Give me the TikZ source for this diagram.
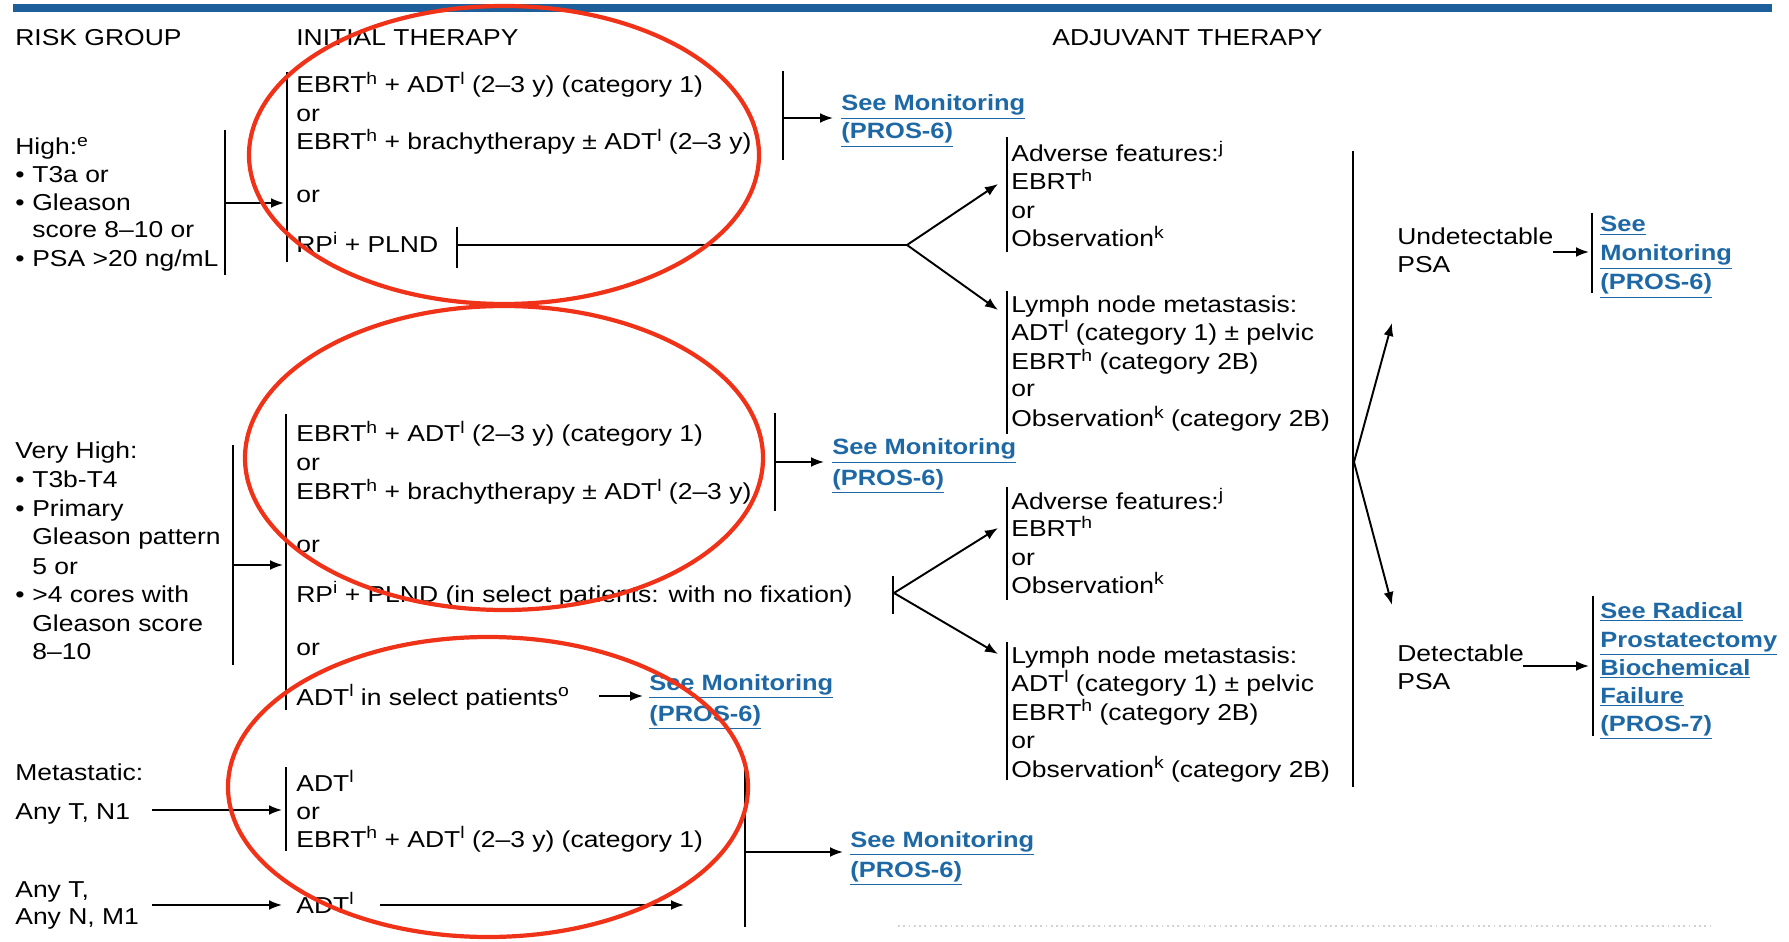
\documentclass[tikz,border=0pt]{standalone}
\usepackage{fontspec}
\setmainfont{Liberation Sans}[FakeStretch=1.15]
\usetikzlibrary{arrows.meta, positioning}
\definecolor{linkblue}{RGB}{30,105,165}
\definecolor{barblue}{RGB}{28,95,155}
\definecolor{markred}{RGB}{240,50,25}
\newcommand{\sus}[1]{\raisebox{0.36em}{\fontsize{9.6}{9.6}\selectfont #1}}
\newcommand{\bul}{\makebox[0.34cm][l]{\textbullet}}

\begin{document}
\begin{tikzpicture}[x=0.02cm, y=-0.02cm,
  txt/.style={anchor=base west, inner sep=0pt, font=\fontsize{13.1}{15.7}\selectfont},
  lnk/.style={txt, text=linkblue, font=\fontsize{12.6}{15.7}\selectfont\bfseries},
  bar/.style={line width=1.1pt},
  arr/.style={line width=1.1pt, -{Latex[length=0.26cm, width=0.2cm]}},
  circ/.style={draw=markred, line width=2.4pt}]
\useasboundingbox (0,0) rectangle (1789,942);

% header
\draw[barblue, line width=4pt] (13,8) -- (1772,8);
\node[txt] (hdrRisk) at (15,46) {RISK GROUP};
\node[txt] (hdrInit) at (296,46) {INITIAL THERAPY};
\node[txt] (hdrAdj) at (1052,46) {ADJUVANT THERAPY};

% high risk
\node[txt] (hi1) at (15,155) {High:\sus{e}};
\node[txt] (hi2) at (15,183) {\bul T3a or};
\node[txt] (hi3) at (15,211) {\bul Gleason};
\node[txt] (hi4) at (32,238) {score 8–10 or};
\node[txt] (hi5) at (15,267) {\bul PSA >20 ng/mL};
\draw[bar] (225,130) -- (225,275);
\coordinate (hiOut) at (226,203);
\coordinate (hiIn) at (284,203);
\draw[arr] (hiOut) -- (hiIn);

\draw[bar] (287,72) -- (287,262);
\node[txt] (hiT1) at (296,93) {EBRT\sus{h} + ADT\sus{l} (2–3 y) (category 1)};
\node[txt] (hiT2) at (296,122) {or};
\node[txt] (hiT3) at (296,150) {EBRT\sus{h} + brachytherapy ± ADT\sus{l} (2–3 y)};
\node[txt] (hiT4) at (296,203) {or};
\node[txt] (hiT5) at (296,253) {RP\sus{i} + PLND};

\draw[bar] (783,71) -- (783,160);
\coordinate (hiMonOut) at (784,118);
\coordinate (hiMonIn) at (833,118);
\draw[arr] (hiMonOut) -- (hiMonIn);
\node[lnk] (hiMon1) at (841,111) {\underline{See Monitoring}};
\node[lnk] (hiMon2) at (841,139) {\underline{(PROS-6)}};

\draw[bar] (457,227) -- (457,268);
\coordinate (hiRP) at (457,245);
\coordinate (hiFork) at (907,245);
\coordinate (hiAdvIn) at (998,184);
\coordinate (hiLymIn) at (998,310);
\draw[bar] (hiRP) -- (hiFork);
\draw[arr] (hiFork) -- (hiAdvIn);
\draw[arr] (hiFork) -- (hiLymIn);

\draw[bar] (1007,137) -- (1007,252);
\node[txt] (hiA1) at (1011,162) {Adverse features:\sus{j}};
\node[txt] (hiA2) at (1011,190) {EBRT\sus{h}};
\node[txt] (hiA3) at (1011,219) {or};
\node[txt] (hiA4) at (1011,247) {Observation\sus{k}};

\draw[bar] (1007,291) -- (1007,434);
\node[txt] (hiL1) at (1011,313) {Lymph node metastasis:};
\node[txt] (hiL2) at (1011,341) {ADT\sus{l} (category 1) ± pelvic};
\node[txt] (hiL3) at (1011,370) {EBRT\sus{h} (category 2B)};
\node[txt] (hiL4) at (1011,397) {or};
\node[txt] (hiL5) at (1011,427) {Observation\sus{k} (category 2B)};

% psa outcome
\draw[bar] (1353,151) -- (1353,787);
\coordinate (psaFork) at (1354,462);
\coordinate (psaUp) at (1392,323);
\coordinate (psaDown) at (1392,605);
\draw[arr] (psaFork) -- (psaUp);
\draw[arr] (psaFork) -- (psaDown);

\node[txt] (undet1) at (1397,245) {Undetectable};
\node[txt] (undet2) at (1397,273) {PSA};
\coordinate (undetOut) at (1553,252);
\coordinate (undetIn) at (1589,252);
\draw[arr] (undetOut) -- (undetIn);
\draw[bar] (1592,213) -- (1592,293);
\node[lnk] (undetMon1) at (1600,232) {\underline{See}};
\node[lnk] (undetMon2) at (1600,261) {\underline{Monitoring}};
\node[lnk] (undetMon3) at (1600,290) {\underline{(PROS-6)}};

\node[txt] (det1) at (1397,661) {Detectable};
\node[txt] (det2) at (1397,689) {PSA};
\coordinate (detOut) at (1523,666);
\coordinate (detIn) at (1589,666);
\draw[arr] (detOut) -- (detIn);
\draw[bar] (1593,596) -- (1593,736);
\node[lnk] (detRef1) at (1600,618) {\underline{See Radical}};
\node[lnk] (detRef2) at (1600,647) {\underline{Prostatectomy}};
\node[lnk] (detRef3) at (1600,675) {\underline{Biochemical}};
\node[lnk] (detRef4) at (1600,703) {\underline{Failure}};
\node[lnk] (detRef5) at (1600,731) {\underline{(PROS-7)}};

% very high risk
\node[txt] (vh1) at (15,459) {Very High:};
\node[txt] (vh2) at (15,488) {\bul T3b-T4};
\node[txt] (vh3) at (15,517) {\bul Primary};
\node[txt] (vh4) at (32,544) {Gleason pattern};
\node[txt] (vh5) at (32,574) {5 or};
\node[txt] (vh6) at (15,602) {\bul >4 cores with};
\node[txt] (vh7) at (32,631) {Gleason score};
\node[txt] (vh8) at (32,659) {8–10};
\draw[bar] (233,445) -- (233,665);
\coordinate (vhOut) at (234,565);
\coordinate (vhIn) at (283,565);
\draw[arr] (vhOut) -- (vhIn);

\draw[bar] (286,414) -- (286,710);
\node[txt] (vhT1) at (296,442) {EBRT\sus{h} + ADT\sus{l} (2–3 y) (category 1)};
\node[txt] (vhT2) at (296,471) {or};
\node[txt] (vhT3) at (296,500) {EBRT\sus{h} + brachytherapy ± ADT\sus{l} (2–3 y)};
\node[txt] (vhT4) at (296,552) {or};
\node[txt] (vhT5) at (296,602) {RP\sus{i} + PLND (in select patients: with no fixation)};
\node[txt] (vhT6) at (296,655) {or};
\node[txt] (vhT7) at (296,705) {ADT\sus{l} in select patients\sus{o}};

\draw[bar] (775,413) -- (775,511);
\coordinate (vhMonOut) at (776,462);
\coordinate (vhMonIn) at (824,462);
\draw[arr] (vhMonOut) -- (vhMonIn);
\node[lnk] (vhMon1) at (832,455) {\underline{See Monitoring}};
\node[lnk] (vhMon2) at (832,485) {\underline{(PROS-6)}};

\coordinate (vhAdtOut) at (599,696);
\coordinate (vhAdtIn) at (643,696);
\draw[arr] (vhAdtOut) -- (vhAdtIn);
\node[lnk] (vhAdt1) at (649,690) {\underline{See Monitoring}};
\node[lnk] (vhAdt2) at (649,721) {\underline{(PROS-6)}};

\draw[bar] (893,576) -- (893,614);
\coordinate (vhFork) at (894,593);
\coordinate (vhAdvIn) at (998,528);
\coordinate (vhLymIn) at (998,654);
\draw[arr] (vhFork) -- (vhAdvIn);
\draw[arr] (vhFork) -- (vhLymIn);

\draw[bar] (1007,487) -- (1007,600);
\node[txt] (vhA1) at (1011,509) {Adverse features:\sus{j}};
\node[txt] (vhA2) at (1011,537) {EBRT\sus{h}};
\node[txt] (vhA3) at (1011,565) {or};
\node[txt] (vhA4) at (1011,593) {Observation\sus{k}};

\draw[bar] (1007,642) -- (1007,780);
\node[txt] (vhL1) at (1011,663) {Lymph node metastasis:};
\node[txt] (vhL2) at (1011,691) {ADT\sus{l} (category 1) ± pelvic};
\node[txt] (vhL3) at (1011,720) {EBRT\sus{h} (category 2B)};
\node[txt] (vhL4) at (1011,748) {or};
\node[txt] (vhL5) at (1011,777) {Observation\sus{k} (category 2B)};

% metastatic
\node[txt] (met1) at (15,780) {Metastatic:};
\node[txt] (met2) at (15,819) {Any T, N1};
\coordinate (metOut) at (152,810);
\coordinate (metIn) at (282,810);
\draw[arr] (metOut) -- (metIn);
\draw[bar] (286,767) -- (286,851);
\node[txt] (metT1) at (296,791) {ADT\sus{l}};
\node[txt] (metT2) at (296,819) {or};
\node[txt] (metT3) at (296,847) {EBRT\sus{h} + ADT\sus{l} (2–3 y) (category 1)};

\node[txt] (m1a) at (15,897) {Any T,};
\node[txt] (m1b) at (15,924) {Any N, M1};
\coordinate (m1Out) at (152,905);
\coordinate (m1In) at (282,905);
\draw[arr] (m1Out) -- (m1In);
\node[txt] (m1T) at (296,913) {ADT\sus{l}};
\coordinate (m1AdtOut) at (380,905);
\coordinate (m1AdtIn) at (684,905);
\draw[arr] (m1AdtOut) -- (m1AdtIn);

\draw[bar] (745,770) -- (745,927);
\coordinate (metMonOut) at (746,852);
\coordinate (metMonIn) at (843,852);
\draw[arr] (metMonOut) -- (metMonIn);
\node[lnk] (metMon1) at (850,847) {\underline{See Monitoring}};
\node[lnk] (metMon2) at (850,877) {\underline{(PROS-6)}};

\draw[gray!35, dotted, line width=1pt] (898,926) -- (1711,926);

% red marks
\draw[circ] (504,155) ellipse [x radius=255, y radius=149];
\draw[circ] (504,458) ellipse [x radius=259, y radius=152];
\draw[circ] (488,787) ellipse [x radius=260, y radius=150];
\end{tikzpicture}
\end{document}
